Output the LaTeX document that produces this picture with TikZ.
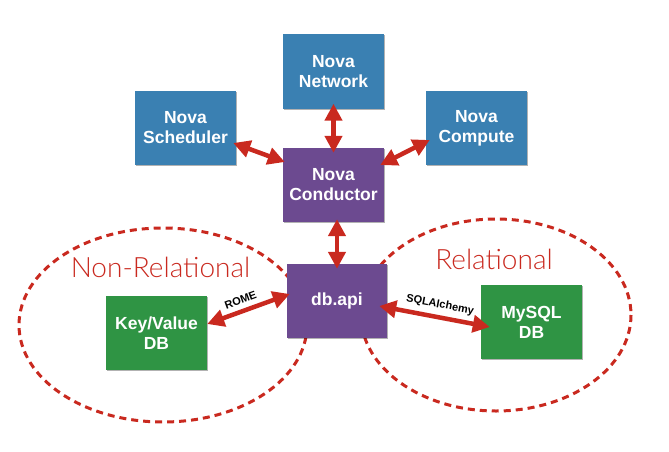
\documentclass[tikz,border=0pt]{standalone}
\usepackage{fontspec}
\setmainfont{Liberation Sans}
\newfontfamily\zonefont{Lato Light}
\usetikzlibrary{arrows.meta,shadows}
\definecolor{novablue}{HTML}{3A80B2}
\definecolor{novapurple}{HTML}{6C4A90}
\definecolor{novagreen}{HTML}{2F9444}
\definecolor{novared}{HTML}{C9291F}
\tikzset{
  box/.style={rectangle, minimum width=101pt, minimum height=74pt, inner sep=0pt,
    align=center, text=white, font=\fontsize{17.5}{20}\selectfont\bfseries,
    drop shadow={shadow xshift=1pt, shadow yshift=-1pt, opacity=0.3, fill=black}},
  bluebox/.style={box, fill=novablue},
  purplebox/.style={box, fill=novapurple},
  greenbox/.style={box, fill=novagreen},
  link/.style={novared, line width=4.5pt, {Triangle[length=17pt,width=17pt]}-{Triangle[length=17pt,width=17pt]}},
  zone/.style={novared, line width=3pt, dash pattern=on 7pt off 5pt},
  zonelabel/.style={text=novared, font=\zonefont\fontsize{28}{30}\selectfont, inner sep=0pt},
  linklabel/.style={font=\fontsize{11}{12}\selectfont\bfseries, text=black, inner sep=1pt}
}
\begin{document}
\begin{tikzpicture}[x=1pt,y=-1pt]
\useasboundingbox (0,0) rectangle (669,452);
% dashed zones
\draw[zone] (163,325) ellipse [x radius=144, y radius=97];
\draw[zone] (496,315) ellipse [x radius=135, y radius=96];
\node[zonelabel] (nrlabel) at (160.5,267) {Non-Relational};
\node[zonelabel] (rlabel) at (494,259) {Relational};
% boxes
\node[bluebox] (net) at (333.5,71.5) {Nova\\Network};
\node[bluebox] (sched) at (185.5,128) {Nova\\Scheduler};
\node[bluebox] (comp) at (476.5,128) {Nova\\Compute};
\node[purplebox] (cond) at (333.5,185) {Nova\\Conductor};
\node[purplebox, minimum width=100pt] (dbapi) at (337,301) {db.api};
\node[greenbox] (kv) at (156.5,333) {Key/Value\\DB};
\node[greenbox] (mysql) at (531.5,322) {MySQL\\DB};
% connectors
\draw[link, shorten <=-5pt, shorten >=-5pt] (net.south) -- (cond.north);
\draw[link] ([xshift=-3pt,yshift=-15pt]sched.east) -- ([xshift=2pt,yshift=23pt]cond.west);
\draw[link] ([xshift=4pt,yshift=-12pt]comp.west) -- ([xshift=-4pt,yshift=20pt]cond.east);
\draw[link, shorten <=-3pt, shorten >=-5pt] ([xshift=3.5pt]cond.south) -- (dbapi.north);
\draw[link] ([yshift=9pt]kv.east) -- node[linklabel, sloped, above=4pt, pos=0.45] (rome) {ROME} ([xshift=3pt,yshift=7pt]dbapi.west);
\draw[link] ([xshift=-8pt,yshift=-5pt]dbapi.east) -- node[linklabel, sloped, above=4pt, pos=0.53] (sqla) {SQLAlchemy} ([xshift=9pt,yshift=-5pt]mysql.west);
\end{tikzpicture}
\end{document}
